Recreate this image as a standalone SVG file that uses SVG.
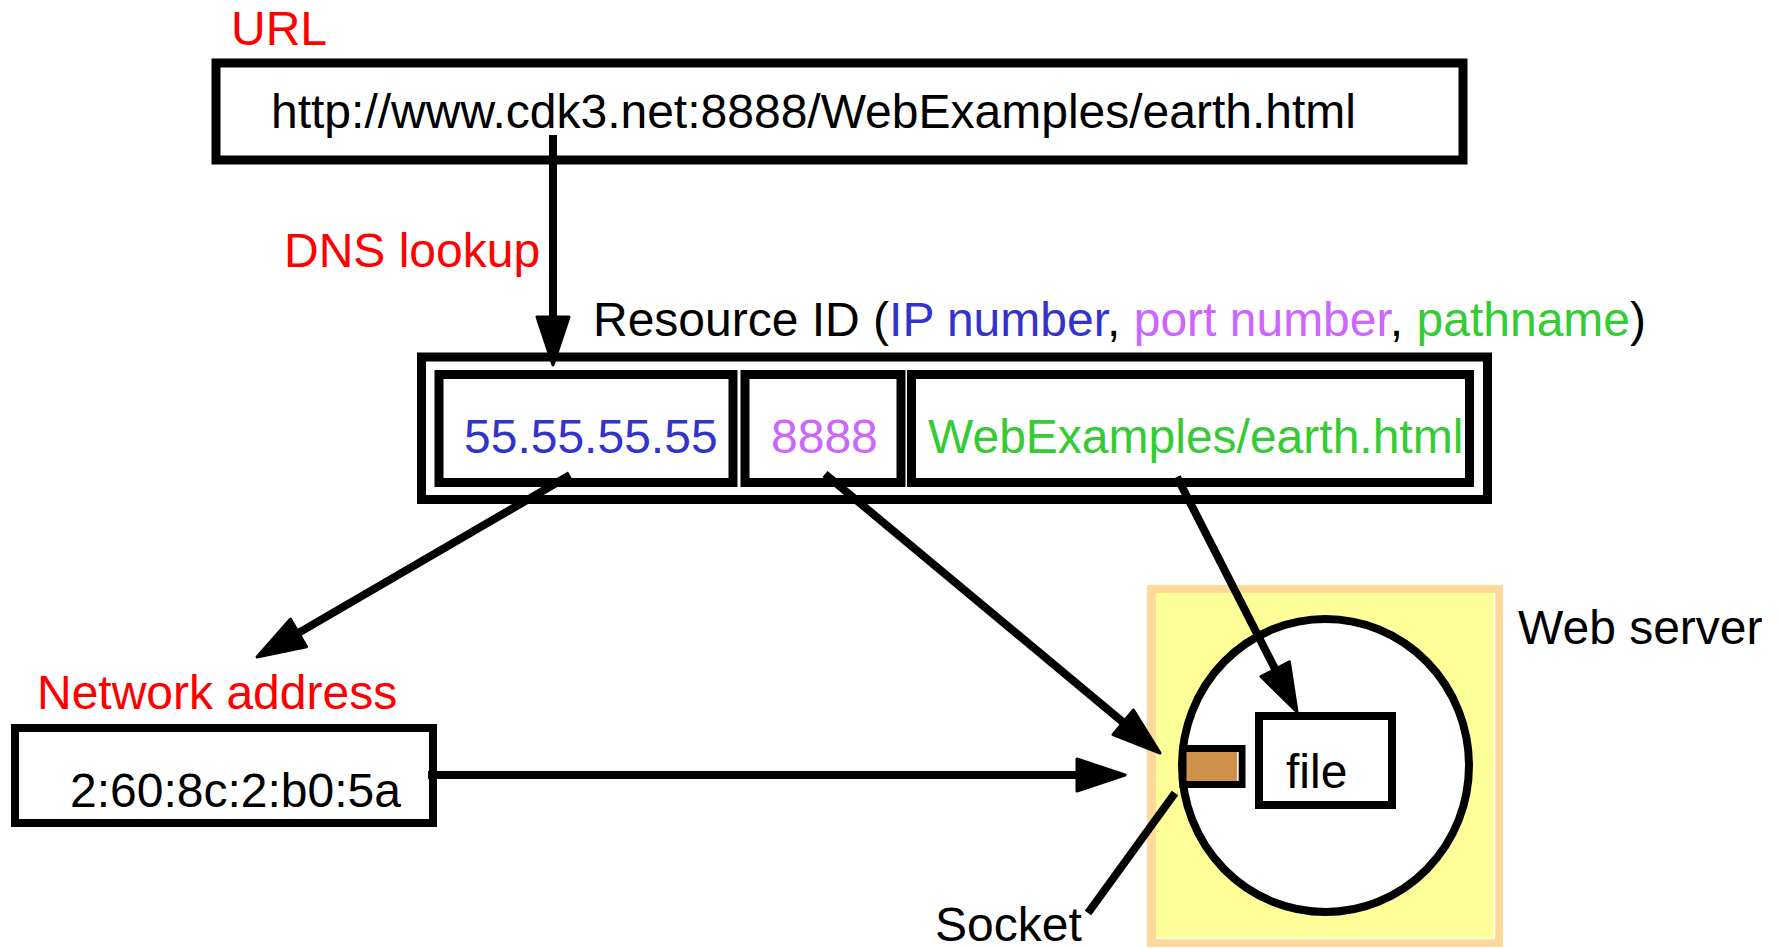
<svg xmlns="http://www.w3.org/2000/svg" width="1778" height="948" viewBox="0 0 1778 948">
  <style>
    text { font-family: "Liberation Sans", Arial, Helvetica, sans-serif; font-size: 48px; fill: #000; }
    .red { fill: #FF0000; }
    .blue { fill: #3333CC; }
    .purple { fill: #CC66FF; }
    .green { fill: #33CC33; }
    .box { fill: #FFFFFF; stroke: #000; stroke-width: 9; }
    .conn { fill: none; stroke: #000; stroke-width: 8; stroke-linecap: butt; }
  </style>
  <defs>
    <marker id="ah" markerUnits="userSpaceOnUse" markerWidth="60" markerHeight="40" refX="2" refY="20" orient="auto" overflow="visible">
      <path d="M0,4 L48,20 L0,36 Z" fill="#000" stroke="#000" stroke-width="3" stroke-linejoin="round"/>
    </marker>
  </defs>

  <rect width="1778" height="948" fill="#FFFFFF"/>

  <!-- URL -->
  <g id="url">
    <text class="red" x="231" y="45">URL</text>
    <rect class="box" x="216" y="63" width="1247" height="97"/>
    <text x="271" y="128">http://www.cdk3.net:8888/WebExamples/earth.html</text>
  </g>

  <g id="dns-label">
    <text class="red" x="284" y="267">DNS lookup</text>
  </g>

  <!-- Resource ID -->
  <g id="resource-id">
    <text x="593" y="336">Resource ID (<tspan class="blue">IP number</tspan>, <tspan class="purple">port number</tspan>, <tspan class="green">pathname</tspan>)</text>
    <rect class="box" x="421.5" y="357" width="1066" height="142.5"/>
  </g>
  <g id="ip-number">
    <rect class="box" x="439" y="374.5" width="294" height="108"/>
    <text class="blue" x="464" y="453">55.55.55.55</text>
  </g>
  <g id="port-number">
    <rect class="box" x="745" y="374.5" width="156" height="108"/>
    <text class="purple" x="771" y="453">8888</text>
  </g>
  <g id="pathname">
    <rect class="box" x="911.5" y="374.5" width="558" height="108"/>
    <text class="green" x="928" y="453">WebExamples/earth.html</text>
  </g>

  <!-- Network address -->
  <g id="network-address">
    <text class="red" x="37" y="709">Network address</text>
    <rect class="box" x="15" y="728" width="418" height="95" style="stroke-width:8"/>
    <text x="70" y="807">2:60:8c:2:b0:5a</text>
  </g>

  <!-- Web server -->
  <g id="web-server">
    <rect x="1147" y="585" width="356" height="362" fill="#FFD999"/>
    <rect x="1156" y="593" width="338" height="345" fill="#FFFF99"/>
    <path d="M1494.5,593 V938.5 H1156" fill="none" stroke="#FFFFFF" stroke-width="1.5"/>
    <ellipse cx="1325.5" cy="765.5" rx="143.5" ry="146.5" fill="#FFFFFF" stroke="#000" stroke-width="8"/>
    <text x="1518" y="644">Web server</text>
  </g>
  <g id="socket">
    <rect x="1183" y="748.5" width="59" height="36" fill="#CD914C" stroke="#000" stroke-width="7"/>
    <line x1="1237.8" y1="752" x2="1237.8" y2="781" stroke="#FFFFFF" stroke-width="1.5"/>
    <text x="935" y="941">Socket</text>
  </g>
  <g id="file">
    <rect x="1259" y="716" width="133" height="89" fill="#FFFFFF" stroke="#000" stroke-width="8"/>
    <text x="1286" y="788">file</text>
  </g>

  <!-- Connectors -->
  <g id="connectors">
    <line class="conn" x1="553" y1="135" x2="553" y2="319" marker-end="url(#ah)"/>
    <line class="conn" x1="570" y1="475" x2="296.8" y2="633.9" marker-end="url(#ah)"/>
    <line class="conn" x1="825" y1="474" x2="1124.7" y2="723.6" marker-end="url(#ah)"/>
    <line class="conn" x1="1177" y1="477" x2="1276.1" y2="671" marker-end="url(#ah)"/>
    <line class="conn" x1="428" y1="775" x2="1079" y2="775" marker-end="url(#ah)"/>
    <line class="conn" x1="1175" y1="793" x2="1088" y2="913"/>
  </g>
</svg>
